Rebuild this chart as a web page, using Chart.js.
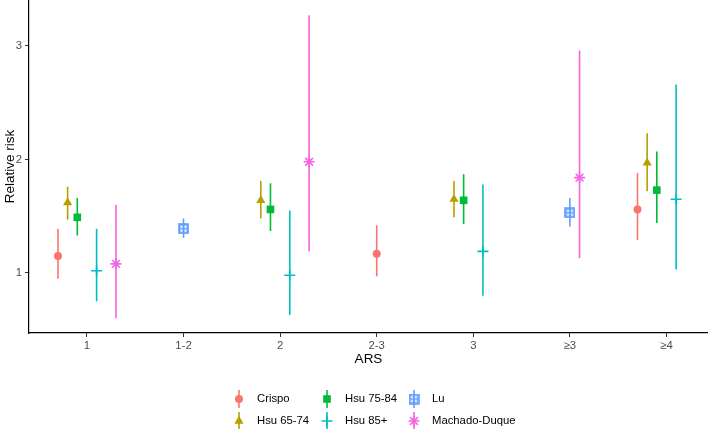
<!DOCTYPE html>
<html lang="en">
<head>
  <meta charset="UTF-8" />
  <title>Relative risk by ARS</title>
  <script src="https://cdn.jsdelivr.net/npm/chart.js"></script>
  <style>
    html, body { margin: 0; padding: 0; background: #fff; }
    #wrap { width: 708px; height: 429px; }
  </style>
</head>
<body>
  <div id="wrap"><canvas id="rrChart" width="708" height="429"></canvas></div>
  <script>
    // Data
    const categories = ['1', '1-2', '2', '2-3', '3', '\u22653', '\u22654'];
    const yTicks = [1, 2, 3];

    const crispoEst = [1.15, null, null, 1.17, null, null, 1.56];
    const crispoLo  = [0.95, null, null, 0.97, null, null, 1.29];
    const crispoHi  = [1.39, null, null, 1.42, null, null, 1.88];

    const hsu65Est = [1.62, null, 1.64, null, 1.65, null, 1.97];
    const hsu65Lo  = [1.47, null, 1.48, null, 1.49, null, 1.72];
    const hsu65Hi  = [1.76, null, 1.81, null, 1.81, null, 2.23];

    const hsu75Est = [1.49, null, 1.56, null, 1.64, null, 1.73];
    const hsu75Lo  = [1.33, null, 1.37, null, 1.43, null, 1.44];
    const hsu75Hi  = [1.66, null, 1.79, null, 1.87, null, 2.07];

    const hsu85Est = [1.02, null, 0.98, null, 1.19, null, 1.65];
    const hsu85Lo  = [0.75, null, 0.63, null, 0.80, null, 1.03];
    const hsu85Hi  = [1.39, null, 1.55, null, 1.78, null, 2.66];

    const luEst = [null, 1.39, null, null, null, 1.53, null];
    const luLo  = [null, 1.31, null, null, null, 1.41, null];
    const luHi  = [null, 1.48, null, null, null, 1.66, null];

    const machadoEst = [1.08, null, 1.98, null, null, 1.84, null];
    const machadoLo  = [0.60, null, 1.19, null, null, 1.13, null];
    const machadoHi  = [1.60, null, 3.27, null, null, 2.96, null];

    // dodge offsets (in category units), as laid out in the figure
    const dodge = {
      'Crispo':        [-0.3, 0, 0, 0, 0, 0, -0.3],
      'Hsu 65-74':     [-0.2, 0, -0.2, 0, -0.2, 0, -0.2],
      'Hsu 75-84':     [-0.1, 0, -0.1, 0, -0.1, 0, -0.1],
      'Hsu 85+':       [0.1, 0, 0.1, 0, 0.1, 0, 0.1],
      'Lu':            [0, 0, 0, 0, 0, 0, 0],
      'Machado-Duque': [0.3, 0, 0.3, 0, 0, 0.1, 0]
    };

    // square with a plus inside (ggplot shape 12)
    function squarePlus(color) {
      const c = document.createElement('canvas');
      c.width = 11; c.height = 11;
      const g = c.getContext('2d');
      g.strokeStyle = color;
      g.lineWidth = 2.2;
      g.strokeRect(1.3, 1.3, 8.4, 8.4);
      g.lineWidth = 1.4;
      g.beginPath();
      g.moveTo(5.5, 1); g.lineTo(5.5, 10);
      g.moveTo(1, 5.5); g.lineTo(10, 5.5);
      g.stroke();
      return c;
    }

    const series = [
      { label: 'Crispo', est: crispoEst, lo: crispoLo, hi: crispoHi, color: '#F8766D', style: 'circle', r: 4 },
      { label: 'Hsu 65-74', est: hsu65Est, lo: hsu65Lo, hi: hsu65Hi, color: '#B79F00', style: 'triangle', r: 5.3 },
      { label: 'Hsu 75-84', est: hsu75Est, lo: hsu75Lo, hi: hsu75Hi, color: '#00BA38', style: 'rect', r: 5.4 },
      { label: 'Hsu 85+', est: hsu85Est, lo: hsu85Lo, hi: hsu85Hi, color: '#00BFC4', style: 'cross', r: 5.5 },
      { label: 'Lu', est: luEst, lo: luLo, hi: luHi, color: '#619CFF', style: squarePlus('#619CFF'), r: 5.5 },
      { label: 'Machado-Duque', est: machadoEst, lo: machadoLo, hi: machadoHi, color: '#F564E3', style: 'star', r: 5.5 }
    ];

    const datasets = series.map(s => ({
      label: s.label,
      data: s.est.map((v, i) => v == null ? null : { x: i + dodge[s.label][i], y: v, lo: s.lo[i], hi: s.hi[i] }).filter(p => p),
      pointStyle: s.style,
      pointRadius: s.r,
      pointHoverRadius: s.r,
      backgroundColor: s.color,
      borderColor: s.color,
      pointBorderWidth: (s.style === 'cross' || s.style === 'star') ? 1.6 : 0,
      showLine: false
    }));

    const errorBars = {
      id: 'errorBars',
      beforeDatasetsDraw(chart) {
        const { ctx, scales: { x, y } } = chart;
        ctx.save();
        ctx.lineWidth = 1.6;
        chart.data.datasets.forEach(ds => {
          ctx.strokeStyle = ds.borderColor;
          ds.data.forEach(p => {
            const px = x.getPixelForValue(p.x);
            ctx.beginPath();
            ctx.moveTo(px, y.getPixelForValue(p.lo));
            ctx.lineTo(px, y.getPixelForValue(p.hi));
            ctx.stroke();
          });
        });
        ctx.restore();
      }
    };

    const titlesAndLegend = {
      id: 'titlesAndLegend',
      afterDraw(chart) {
        const { ctx, chartArea } = chart;
        ctx.save();
        ctx.fillStyle = '#000';
        ctx.font = '13.5px "Liberation Sans", Arial, sans-serif';
        ctx.textAlign = 'center';
        ctx.textBaseline = 'middle';
        ctx.fillText('ARS', (chartArea.left + chartArea.right) / 2, 359);
        ctx.save();
        ctx.translate(10, (chartArea.top + chartArea.bottom) / 2);
        ctx.rotate(-Math.PI / 2);
        ctx.fillText('Relative risk', 0, 0);
        ctx.restore();

        // legend: 3 columns x 2 rows, filled by column
        const colX = [239, 327, 414];
        const rowY = [399, 421];
        ctx.font = '11.3px "Liberation Sans", Arial, sans-serif';
        ctx.textAlign = 'left';
        series.forEach((s, i) => {
          const cx = colX[Math.floor(i / 2)];
          const cy = rowY[i % 2];
          ctx.strokeStyle = s.color;
          ctx.fillStyle = s.color;
          ctx.lineWidth = 1.6;
          ctx.beginPath();
          ctx.moveTo(cx, cy - 9);
          ctx.lineTo(cx, cy + 9);
          ctx.stroke();
          const bw = (s.style === 'cross' || s.style === 'star') ? 1.6 : 0;
          ctx.lineWidth = bw;
          Chart.helpers.drawPoint(ctx, { pointStyle: s.style, radius: s.r, borderWidth: bw }, cx, cy);
          ctx.fillStyle = '#000';
          ctx.fillText(s.label, cx + 18, cy);
        });
        ctx.restore();
      }
    };

    const tickFont = { family: '"Liberation Sans", Arial, sans-serif', size: 11.3 };

    new Chart(document.getElementById('rrChart'), {
      type: 'scatter',
      data: { datasets },
      plugins: [errorBars, titlesAndLegend],
      options: {
        responsive: false,
        animation: false,
        layout: { autoPadding: false, padding: { top: 0, right: 0, left: 0, bottom: 60 } },
        plugins: { legend: { display: false }, tooltip: { enabled: false } },
        scales: {
          x: {
            type: 'linear',
            min: -0.6,
            max: 6.43,
            afterBuildTicks: sc => { sc.ticks = categories.map((c, i) => ({ value: i })); },
            afterFit: sc => { sc.height = 36; sc.paddingLeft = 0; sc.paddingRight = 0; },
            ticks: { callback: v => categories[v], color: '#4D4D4D', font: tickFont, padding: 2, maxRotation: 0, autoSkip: false },
            grid: { drawOnChartArea: false, tickLength: 4, tickColor: '#333', tickWidth: 1 },
            border: { color: '#000', width: 1.2 }
          },
          y: {
            min: 0.471,
            max: 3.405,
            afterBuildTicks: sc => { sc.ticks = yTicks.map(v => ({ value: v })); },
            afterFit: sc => { sc.width = 29; sc.paddingTop = 0; sc.paddingBottom = 0; },
            ticks: { color: '#4D4D4D', font: tickFont, padding: 3 },
            grid: { drawOnChartArea: false, tickLength: 4, tickColor: '#333', tickWidth: 1 },
            border: { color: '#000', width: 1.2 }
          }
        }
      }
    });
  </script>
</body>
</html>
